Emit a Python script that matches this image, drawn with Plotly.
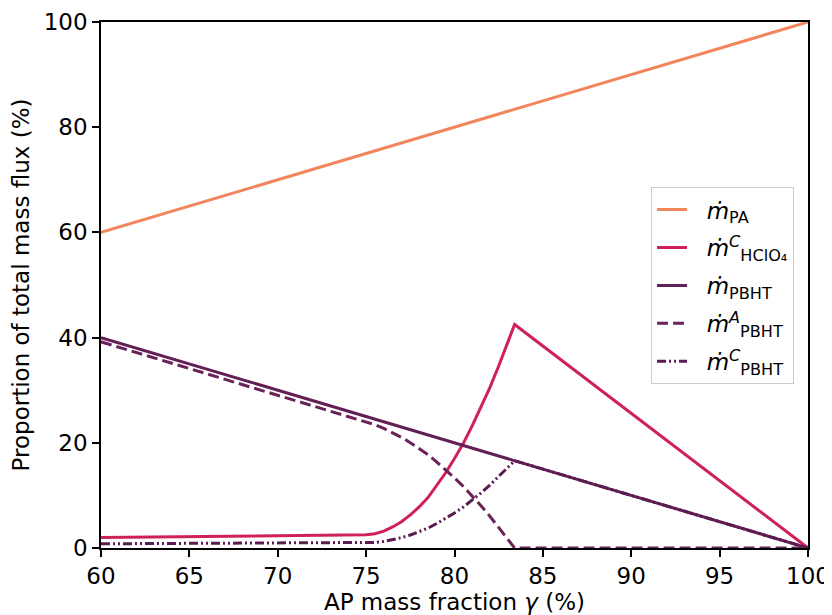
import plotly.graph_objects as go

# AP mass fraction gamma (%)
gamma_lin = [60, 100]
pa_vals = [60, 100]
pbht_vals = [40, 0]

gamma_curve = [60, 65, 70, 75, 75.5, 76, 76.5, 77, 77.5, 78, 78.5, 79, 79.5, 80,
               80.5, 81, 81.5, 82, 82.5, 83, 83.4, 100]
hclo4_c_vals = [2.0, 2.15, 2.3, 2.5, 2.7, 3.2, 4.0, 5.0, 6.3, 7.8, 9.6, 11.9, 14.3, 17.0,
                19.9, 23.2, 26.7, 30.5, 34.6, 38.9, 42.5, 0.0]
pbht_c_vals = [0.8, 0.85, 0.9, 1.0, 1.06, 1.25, 1.57, 1.96, 2.47, 3.06, 3.76, 4.67, 5.61, 6.67,
               7.8, 9.1, 10.47, 11.96, 13.57, 15.25, 16.6, 0.0]
pbht_a_vals = [39.2, 34.15, 29.1, 24.0, 23.44, 22.75, 21.93, 21.04, 20.03, 18.94, 17.74, 16.33,
               14.89, 13.33, 11.7, 9.9, 8.03, 6.04, 3.93, 1.75, 0.0, 0.0]

x_ticks = [60, 65, 70, 75, 80, 85, 90, 95, 100]
y_ticks = [0, 20, 40, 60, 80, 100]

c_pa = "#F1865C"
c_hclo4 = "#CF2158"
c_pbht = "#621F54"
c_pbht_a = "#6A2358"
c_pbht_c = "#5A1B50"

FS = 23
SP = "\u00a0\u00a0"

fig = go.Figure()
fig.add_trace(go.Scatter(x=gamma_lin, y=pa_vals, mode="lines", legendgroup="g1",
                         line=dict(color=c_pa, width=3),
                         name=SP + "<i>ṁ</i><sub>PA</sub>"))
fig.add_trace(go.Scatter(x=gamma_curve, y=hclo4_c_vals, mode="lines", legendgroup="g2",
                         line=dict(color=c_hclo4, width=3),
                         name=SP + "<i>ṁ</i><sup><i>C</i></sup><sub>HClO₄</sub>"))
fig.add_trace(go.Scatter(x=gamma_lin, y=pbht_vals, mode="lines", legendgroup="g3",
                         line=dict(color=c_pbht, width=3),
                         name=SP + "<i>ṁ</i><sub>PBHT</sub>"))
fig.add_trace(go.Scatter(x=gamma_curve, y=pbht_a_vals, mode="lines", legendgroup="g4",
                         line=dict(color=c_pbht_a, width=3, dash="11px,5px"),
                         name=SP + "<i>ṁ</i><sup><i>A</i></sup><sub>PBHT</sub>"))
fig.add_trace(go.Scatter(x=gamma_curve, y=pbht_c_vals, mode="lines", legendgroup="g5",
                         line=dict(color=c_pbht_c, width=3, dash="9px,3px,2px,3px,2px,3px"),
                         name=SP + "<i>ṁ</i><sup><i>C</i></sup><sub>PBHT</sub>"))

axis_common = dict(showline=True, linecolor="black", linewidth=1.6, mirror=True,
                   ticks="outside", ticklen=7, tickwidth=1.6, tickcolor="black",
                   showgrid=False, zeroline=False, automargin=False,
                   tickfont=dict(size=FS, color="black"),
                   title_font=dict(size=FS, color="black"))

fig.update_xaxes(range=[60, 100], tickvals=x_ticks, title_text="AP mass fraction <i>γ</i> (%)",
                 title_standoff=4, **axis_common)
fig.update_yaxes(range=[0, 100], tickvals=y_ticks, title_text="Proportion of total mass flux (%)",
                 title_standoff=12, **axis_common)

# page body adds an 8px offset; figure sized so the plot area lands at 101..807 x 22..548
fig.update_layout(
    width=824, height=607,
    margin=dict(l=93, r=24, t=14, b=67),
    paper_bgcolor="white", plot_bgcolor="white",
    font=dict(family="DejaVu Sans", size=FS, color="black"),
    legend=dict(x=0.778, y=0.686, xanchor="left", yanchor="top",
                bgcolor="white", bordercolor="#cccccc", borderwidth=1,
                tracegroupgap=5, font=dict(size=FS)),
)

fig.write_html("out.html")
